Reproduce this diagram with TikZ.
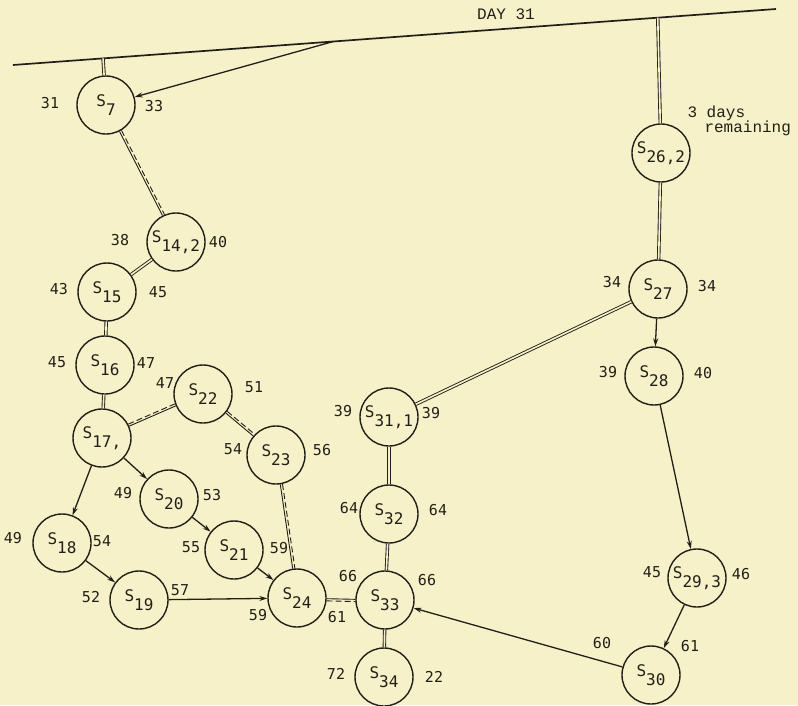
\documentclass[tikz,border=0pt]{standalone}
\usepackage{fontspec}
\newfontfamily\numfont{DejaVu Sans Mono}
\newfontfamily\typefont{Liberation Mono}
\usetikzlibrary{arrows.meta,calc}
\definecolor{Paper}{HTML}{F7F1C9}
\definecolor{Ink}{HTML}{221F18}
\newcommand{\st}[1]{S\raisebox{-9pt}{#1}}

\begin{document}
\begin{tikzpicture}[x=1pt,y=-1pt,
  state/.style={circle,draw=Ink,line width=1.4pt,minimum size=58pt,inner sep=0pt,
    text=Ink,font=\numfont\fontsize{16}{16}\selectfont},
  num/.style={text=Ink,font=\numfont\fontsize{15}{16}\selectfont},
  typ/.style={text=Ink,font=\typefont\fontsize{16}{17}\selectfont},
  link/.style={Ink,line width=0.9pt},
  dbl/.style={Ink,line width=0.9pt,double=Paper,double distance=1.6pt},
  arr/.style={Ink,line width=1.3pt,-{Stealth[length=8pt,width=5pt]}}]

   \fill[Paper] (0,0) rectangle (798,705);
   \useasboundingbox (0,0) rectangle (798,705);

   % the day line
   \coordinate (dayL) at (13,65);
   \coordinate (dayR) at (776,9);
   \draw[Ink,line width=1.7pt] (dayL) -- (dayR);
   \coordinate (d7) at ($(dayL)!0.118!(dayR)$);
   \coordinate (dgo) at ($(dayL)!0.42!(dayR)$);
   \coordinate (d26) at ($(dayL)!0.845!(dayR)$);
   \node[typ] (day) at (506,14) {DAY 31};

   % states
   \node[state] (s7) at (106,105) {\st{7}};
   \node[state] (s14) at (176,242) {\st{14,2}};
   \node[state] (s15) at (107,292) {\st{15}};
   \node[state] (s16) at (105,365) {\st{16}};
   \node[state] (s17) at (102,438) {\st{17,}};
   \node[state] (s22) at (203,394) {\st{22}};
   \node[state] (s23) at (276,455) {\st{23}};
   \node[state] (s20) at (169,499) {\st{20}};
   \node[state] (s21) at (234,550) {\st{21}};
   \node[state] (s18) at (62,543) {\st{18}};
   \node[state] (s19) at (139,600) {\st{19}};
   \node[state] (s24) at (297,598) {\st{24}};
   \node[state] (s33) at (385,600) {\st{33}};
   \node[state] (s34) at (384,677) {\st{34}};
   \node[state] (s32) at (389,514) {\st{32}};
   \node[state] (s31) at (389,417) {\st{31,1}};
   \node[state] (s26) at (661,153) {\st{26,2}};
   \node[state] (s27) at (658,289) {\st{27}};
   \node[state] (s28) at (654,376) {\st{28}};
   \node[state] (s29) at (697,578) {\st{29,3}};
   \node[state] (s30) at (651,675) {\st{30}};

   \node[typ,anchor=west] (rem1) at (684,113) {3 days};
   \node[typ,anchor=west] (rem2) at (701,128) {remaining};

   % times beside each state
   \node[num] (t7a) at (50,103) {31};   \node[num] (t7b) at (154,106) {33};
   \node[num] (t14a) at (120,240) {38}; \node[num] (t14b) at (218,242) {40};
   \node[num] (t15a) at (59,289) {43};  \node[num] (t15b) at (158,292) {45};
   \node[num] (t16a) at (57,362) {45};  \node[num] (t16b) at (146,363) {47};
   \node[num] (t22a) at (165,383) {47}; \node[num] (t22b) at (254,387) {51};
   \node[num] (t23a) at (233,449) {54}; \node[num] (t23b) at (322,450) {56};
   \node[num] (t20a) at (123,493) {49}; \node[num] (t20b) at (212,495) {53};
   \node[num] (t18a) at (13,538) {49};  \node[num] (t18b) at (102,541) {54};
   \node[num] (t21a) at (191,547) {55}; \node[num] (t21b) at (279,548) {59};
   \node[num] (t19a) at (91,597) {52};  \node[num] (t19b) at (180,590) {57};
   \node[num] (t24a) at (258,615) {59}; \node[num] (t24b) at (337,617) {61};
   \node[num] (t33a) at (348,576) {66}; \node[num] (t33b) at (427,580) {66};
   \node[num] (t34a) at (336,674) {72}; \node[num] (t34b) at (434,677) {22};
   \node[num] (t32a) at (349,508) {64}; \node[num] (t32b) at (438,510) {64};
   \node[num] (t31a) at (343,411) {39}; \node[num] (t31b) at (431,413) {39};
   \node[num] (t27a) at (612,282) {34}; \node[num] (t27b) at (707,286) {34};
   \node[num] (t28a) at (608,372) {39}; \node[num] (t28b) at (703,373) {40};
   \node[num] (t29a) at (652,572) {45}; \node[num] (t29b) at (741,574) {46};
   \node[num] (t30a) at (602,643) {60}; \node[num] (t30b) at (690,646) {61};

   % links from the day line
   \draw[dbl] (d7) -- (s7);
   \draw[arr] (dgo) -- (s7);
   \draw[dbl] (d26) -- (s26);

   % solid + dashed pairs
   \draw[link] (s7) -- (s14);
   \draw[link,dashed,dash pattern=on 6pt off 3pt,transform canvas={shift={(2,-1)}}] (s7) -- (s14);
   \draw[link] (s17) -- (s22);
   \draw[link,dashed,dash pattern=on 6pt off 3pt,transform canvas={shift={(-0.9,-2)}}] (s17) -- (s22);
   \draw[link] (s22) -- (s23);
   \draw[link,dashed,dash pattern=on 6pt off 3pt,transform canvas={shift={(1.4,-1.7)}}] (s22) -- (s23);
   \draw[link] (s23) -- (s24);
   \draw[link,dashed,dash pattern=on 6pt off 3pt,transform canvas={shift={(2.2,-0.3)}}] (s23) -- (s24);
   \draw[link] (s24) -- (s33);
   \draw[link,dashed,dash pattern=on 6pt off 3pt,transform canvas={shift={(0,2.2)}}] (s24) -- (s33);

   % double links
   \draw[dbl] (s14) -- (s15);
   \draw[dbl] (s15) -- (s16);
   \draw[dbl] (s16) -- (s17);
   \draw[dbl] (s26) -- (s27);
   \draw[dbl] (s27) -- (s31);
   \draw[dbl] (s31) -- (s32);
   \draw[dbl] (s32) -- (s33);
   \draw[dbl] (s33) -- (s34);

   % arrows
   \draw[arr] (s17) -- (s18);
   \draw[arr] (s17) -- (s20);
   \draw[arr] (s18) -- (s19);
   \draw[arr] (s20) -- (s21);
   \draw[arr] (s21) -- (s24);
   \draw[arr] (s19) -- (s24);
   \draw[arr] (s27) -- (s28);
   \draw[arr] (s28) -- (s29);
   \draw[arr] (s29) -- (s30);
   \draw[arr] (s30) -- (s33);
\end{tikzpicture}
\end{document}
